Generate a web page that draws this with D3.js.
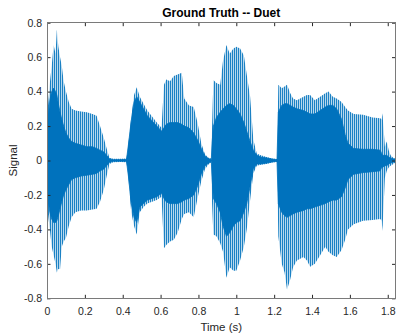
<!DOCTYPE html>
<html>
<head>
<meta charset="utf-8">
<script src="https://cdn.jsdelivr.net/npm/d3@7"></script>
<style>
  html, body { margin: 0; padding: 0; background: #fff; }
  svg { display: block; font-family: "Liberation Sans", Arial, Helvetica, sans-serif; }
</style>
</head>
<body>
<svg id="chart" width="398" height="333"></svg>
<script>
// Waveform envelope: time (s), outer peak (spike tips) and inner dense core.
const time = [
  0.000, 0.004, 0.015, 0.025, 0.035, 0.045, 0.052, 0.060, 0.069, 0.078,
  0.088, 0.100, 0.115, 0.130, 0.150, 0.180, 0.210, 0.240, 0.262, 0.280,
  0.300, 0.315, 0.330, 0.350, 0.390, 0.420,
  0.430, 0.445, 0.460, 0.474, 0.490, 0.510, 0.530, 0.555, 0.580, 0.605,
  0.618, 0.630, 0.650, 0.670, 0.690, 0.712, 0.725, 0.750, 0.775, 0.795,
  0.815, 0.835, 0.855, 0.868,
  0.872, 0.879, 0.895, 0.915, 0.930, 0.948, 0.965, 0.985, 1.000, 1.020,
  1.040, 1.055, 1.073, 1.090, 1.108, 1.130, 1.160, 1.190, 1.215,
  1.222, 1.240, 1.255, 1.268, 1.285, 1.300, 1.320, 1.355, 1.373, 1.390,
  1.415, 1.443, 1.470, 1.487, 1.510, 1.530, 1.556, 1.575, 1.590, 1.620,
  1.670, 1.720, 1.760, 1.768, 1.772, 1.785, 1.795, 1.805, 1.815, 1.830, 1.841
];
const outerMax = [
  0.42, 0.30, 0.45, 0.55, 0.67, 0.62, 0.76, 0.66, 0.60, 0.55,
  0.46, 0.40, 0.34, 0.30, 0.29, 0.285, 0.28, 0.27, 0.26, 0.20,
  0.13, 0.07, 0.015, 0.010, 0.010, 0.012,
  0.10, 0.25, 0.38, 0.425, 0.37, 0.33, 0.29, 0.255, 0.22, 0.19,
  0.44, 0.47, 0.46, 0.49, 0.50, 0.51, 0.36, 0.32, 0.31, 0.22,
  0.10, 0.035, 0.015, 0.012,
  0.20, 0.467, 0.45, 0.44, 0.58, 0.67, 0.62, 0.65, 0.66, 0.65,
  0.61, 0.50, 0.37, 0.12, 0.04, 0.03, 0.02, 0.012, 0.008,
  0.44, 0.42, 0.43, 0.44, 0.39, 0.36, 0.35, 0.37, 0.38, 0.38,
  0.35, 0.37, 0.39, 0.40, 0.37, 0.36, 0.34, 0.31, 0.29, 0.27,
  0.265, 0.25, 0.245, 0.24, 0.275, 0.08, 0.11, 0.06, 0.03, 0.015, 0.01
];
const outerMin = [
  -0.40, -0.30, -0.40, -0.50, -0.55, -0.60, -0.65, -0.63, -0.63, -0.50,
  -0.47, -0.45, -0.38, -0.33, -0.30, -0.29, -0.29, -0.285, -0.28, -0.24,
  -0.17, -0.09, -0.02, -0.010, -0.008, -0.010,
  -0.10, -0.30, -0.38, -0.43, -0.30, -0.27, -0.25, -0.24, -0.23, -0.21,
  -0.51, -0.49, -0.47, -0.46, -0.42, -0.34, -0.31, -0.30, -0.33, -0.22,
  -0.12, -0.05, -0.02, -0.010,
  -0.25, -0.43, -0.44, -0.48, -0.53, -0.68, -0.62, -0.64, -0.64, -0.58,
  -0.50, -0.40, -0.23, -0.075, -0.03, -0.025, -0.02, -0.012, -0.008,
  -0.44, -0.60, -0.65, -0.75, -0.69, -0.62, -0.58, -0.56, -0.58, -0.617,
  -0.60, -0.55, -0.50, -0.53, -0.55, -0.56, -0.52, -0.46, -0.40, -0.37,
  -0.35, -0.345, -0.34, -0.35, -0.41, -0.10, -0.06, -0.04, -0.03, -0.02, -0.01
];
const coreMax = [
  0.20, 0.22, 0.35, 0.40, 0.42, 0.40, 0.38, 0.33, 0.28, 0.24,
  0.20, 0.16, 0.13, 0.11, 0.10, 0.09, 0.08, 0.08, 0.07, 0.06,
  0.05, 0.03, 0.010, 0.005, 0.005, 0.006,
  0.09, 0.23, 0.34, 0.37, 0.34, 0.30, 0.26, 0.23, 0.20, 0.17,
  0.19, 0.21, 0.22, 0.22, 0.22, 0.21, 0.20, 0.19, 0.16, 0.12,
  0.07, 0.025, 0.010, 0.006,
  0.10, 0.20, 0.25, 0.28, 0.30, 0.32, 0.33, 0.32, 0.30, 0.27,
  0.22, 0.17, 0.11, 0.06, 0.03, 0.02, 0.015, 0.008, 0.005,
  0.28, 0.32, 0.33, 0.33, 0.32, 0.31, 0.30, 0.29, 0.28, 0.27,
  0.27, 0.29, 0.31, 0.32, 0.32, 0.30, 0.24, 0.15, 0.10, 0.07,
  0.065, 0.065, 0.06, 0.04, 0.03, 0.03, 0.03, 0.02, 0.015, 0.01, 0.006
];
const coreMin = [
  -0.20, -0.22, -0.30, -0.34, -0.36, -0.36, -0.35, -0.32, -0.28, -0.24,
  -0.20, -0.17, -0.14, -0.11, -0.10, -0.09, -0.085, -0.08, -0.075, -0.06,
  -0.05, -0.03, -0.010, -0.005, -0.004, -0.005,
  -0.09, -0.25, -0.33, -0.36, -0.27, -0.25, -0.23, -0.22, -0.21, -0.19,
  -0.22, -0.24, -0.25, -0.25, -0.25, -0.24, -0.23, -0.22, -0.20, -0.15,
  -0.08, -0.03, -0.015, -0.006,
  -0.10, -0.22, -0.25, -0.30, -0.38, -0.44, -0.42, -0.38, -0.36, -0.35,
  -0.30, -0.25, -0.15, -0.05, -0.02, -0.02, -0.015, -0.008, -0.005,
  -0.25, -0.30, -0.32, -0.33, -0.32, -0.31, -0.30, -0.29, -0.28, -0.28,
  -0.27, -0.26, -0.25, -0.24, -0.23, -0.23, -0.21, -0.16, -0.11, -0.08,
  -0.07, -0.065, -0.06, -0.04, -0.04, -0.03, -0.03, -0.02, -0.015, -0.01, -0.006
];

const xTicks = [0, 0.2, 0.4, 0.6, 0.8, 1, 1.2, 1.4, 1.6, 1.8];
const yTicks = [-0.8, -0.6, -0.4, -0.2, 0, 0.2, 0.4, 0.6, 0.8];
const titleText = "Ground Truth -- Duet";
const xLabelText = "Time (s)";
const yLabelText = "Signal";

const rows = time.map((t, i) => ({
  t, hi: outerMax[i], lo: outerMin[i], chi: coreMax[i], clo: coreMin[i]
}));

const svg = d3.select("#chart");
const plotLeft = 47, plotRight = 395.5, plotTop = 22.7, plotBottom = 298.3;

const x = d3.scaleLinear().domain([0, 1.841]).range([plotLeft, plotRight]);
const y = d3.scaleLinear().domain([-0.8, 0.8]).range([plotBottom, plotTop]);

const lineBlue = "#0072BD";
const textColor = "#262626";
const fmt = d => String(+d.toFixed(1));

// Stripe pattern for the sparse spike region of the waveform
const defs = svg.append("defs");
const pat = defs.append("pattern")
  .attr("id", "spikes")
  .attr("patternUnits", "userSpaceOnUse")
  .attr("width", 2).attr("height", 4);
pat.append("rect").attr("width", 2).attr("height", 4)
  .attr("fill", lineBlue).attr("fill-opacity", 0.28);
pat.append("rect").attr("width", 1).attr("height", 4)
  .attr("fill", lineBlue).attr("fill-opacity", 0.85);

defs.append("clipPath").attr("id", "plotClip")
  .append("rect").attr("x", plotLeft).attr("y", plotTop)
  .attr("width", plotRight - plotLeft).attr("height", plotBottom - plotTop);

const g = svg.append("g").attr("clip-path", "url(#plotClip)");

const outerArea = d3.area()
  .x(d => x(d.t)).y0(d => y(d.lo)).y1(d => y(d.hi))
  .curve(d3.curveLinear);
const coreArea = d3.area()
  .x(d => x(d.t)).y0(d => y(d.clo)).y1(d => y(d.chi))
  .curve(d3.curveLinear);

g.append("path").datum(rows)
  .attr("d", outerArea)
  .attr("fill", "url(#spikes)");

g.append("path").datum(rows)
  .attr("d", coreArea)
  .attr("fill", lineBlue)
  .attr("stroke", lineBlue).attr("stroke-width", 0.8);

// Zero-amplitude trace so quiet stretches still show the signal line
g.append("path").datum(rows)
  .attr("d", d3.line().x(d => x(d.t)).y(() => y(0)))
  .attr("fill", "none").attr("stroke", lineBlue).attr("stroke-width", 1);

// Axes with inward ticks, mirrored on top and right (box on)
const tick = 3.5;
function styleAxis(sel) {
  sel.select(".domain").remove();
  sel.selectAll(".tick line").attr("stroke", textColor).attr("stroke-width", 1);
  sel.selectAll(".tick text").attr("fill", textColor)
    .style("font-size", "10.5px")
    .style("font-family", "Liberation Sans, Arial, sans-serif");
}

svg.append("g").attr("transform", `translate(0,${plotBottom})`)
  .call(d3.axisBottom(x).tickValues(xTicks).tickFormat(fmt).tickSize(-tick).tickPadding(9))
  .call(styleAxis);
svg.append("g").attr("transform", `translate(0,${plotTop})`)
  .call(d3.axisTop(x).tickValues(xTicks).tickFormat("").tickSize(-tick))
  .call(styleAxis);
svg.append("g").attr("transform", `translate(${plotLeft},0)`)
  .call(d3.axisLeft(y).tickValues(yTicks).tickFormat(fmt).tickSize(-tick).tickPadding(5))
  .call(styleAxis);
svg.append("g").attr("transform", `translate(${plotRight},0)`)
  .call(d3.axisRight(y).tickValues(yTicks).tickFormat("").tickSize(-tick))
  .call(styleAxis);

// Frame
svg.append("rect")
  .attr("x", plotLeft).attr("y", plotTop)
  .attr("width", plotRight - plotLeft).attr("height", plotBottom - plotTop)
  .attr("fill", "none").attr("stroke", "#7a7a7a").attr("stroke-width", 1)
  .attr("shape-rendering", "crispEdges");

// Title and axis labels
svg.append("text")
  .attr("x", (plotLeft + plotRight) / 2).attr("y", 16.5)
  .attr("text-anchor", "middle")
  .attr("fill", "#000")
  .style("font-size", "12px").style("font-weight", "bold")
  .text(titleText);

svg.append("text")
  .attr("x", (plotLeft + plotRight) / 2).attr("y", 330.5)
  .attr("text-anchor", "middle")
  .attr("fill", textColor)
  .style("font-size", "11.5px")
  .text(xLabelText);

svg.append("text")
  .attr("transform", `translate(17,${(plotTop + plotBottom) / 2}) rotate(-90)`)
  .attr("text-anchor", "middle")
  .attr("fill", textColor)
  .style("font-size", "11.5px")
  .text(yLabelText);
</script>
</body>
</html>
